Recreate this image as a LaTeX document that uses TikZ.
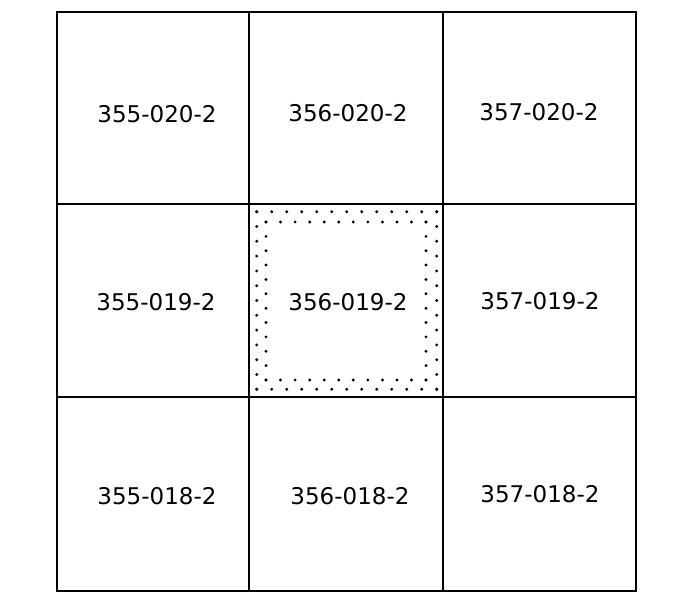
\documentclass[tikz,border=0pt]{standalone}
\usepackage{fontspec}
\setmainfont{DejaVu Sans}
\begin{document}
\begin{tikzpicture}[x=1pt,y=-1pt,
  gridline/.style={line width=1.7pt,black},
  lbl/.style={font=\fontsize{23}{26}\selectfont,inner sep=0pt},
  dotmark/.style={fill=black}]
\useasboundingbox (0,0) rectangle (686,607);
% grid
\draw[gridline] (57,12) rectangle (636,591);
\draw[gridline] (249.3,12) -- (249.3,591);
\draw[gridline] (443.3,12) -- (443.3,591);
\draw[gridline] (57,204.3) -- (636,204.3);
\draw[gridline] (57,396.7) -- (636,396.7);
% dotted border, outer ring
\foreach \i in {0,...,12}{
  \fill[dotmark] ({256.7+\i*15},211.7) circle (1.6);
  \fill[dotmark] ({256.7+\i*15},389.3) circle (1.6);
  \fill[dotmark] (256.7,{211.7+\i*14.8}) circle (1.6);
  \fill[dotmark] (436.7,{211.7+\i*14.8}) circle (1.6);
}
% inner ring
\foreach \i in {0,...,11}{
  \fill[dotmark] ({266+\i*14.55},222) circle (1.6);
  \fill[dotmark] ({266+\i*14.55},380) circle (1.6);
  \fill[dotmark] (266,{222+\i*14.36}) circle (1.6);
  \fill[dotmark] (426,{222+\i*14.36}) circle (1.6);
}
% labels
\node[lbl] (a1) at (157,114) {355-020-2};
\node[lbl] (a2) at (348,113) {356-020-2};
\node[lbl] (a3) at (539,112) {357-020-2};
\node[lbl] (b1) at (156,302) {355-019-2};
\node[lbl] (b2) at (348,302) {356-019-2};
\node[lbl] (b3) at (540,301) {357-019-2};
\node[lbl] (c1) at (157,496) {355-018-2};
\node[lbl] (c2) at (350,496) {356-018-2};
\node[lbl] (c3) at (540,494) {357-018-2};
\end{tikzpicture}
\end{document}
